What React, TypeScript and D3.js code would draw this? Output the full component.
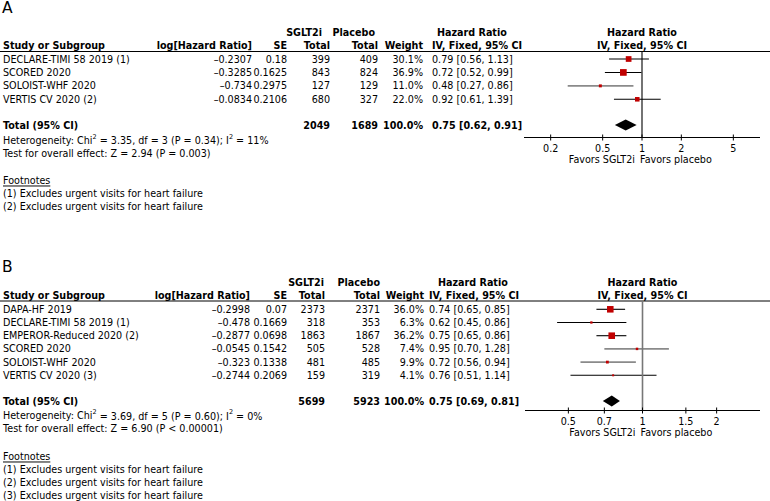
import React from "react";
import * as d3 from "d3";

// ---------- Panel A data ----------
const studiesA = ["DECLARE-TIMI 58 2019 (1)", "SCORED 2020", "SOLOIST-WHF 2020", "VERTIS CV 2020 (2)"];
const logHrA = [-0.2307, -0.3285, -0.734, -0.0834];
const seA = [0.18, 0.1625, 0.2975, 0.2106];
const sgltTotalA = [399, 843, 127, 680];
const placeboTotalA = [409, 824, 129, 327];
const weightA = [30.1, 36.9, 11.0, 22.0];
const hrA = [0.79, 0.72, 0.48, 0.92];
const loA = [0.56, 0.52, 0.27, 0.61];
const hiA = [1.13, 0.99, 0.86, 1.39];
const totalA = { sglt: 2049, placebo: 1689, weight: 100.0, hr: 0.75, lo: 0.62, hi: 0.91 };
const hetA = { chi: "3.35", df: "3", p: "0.34", i2: "11%" };
const effectA = "Test for overall effect: Z = 2.94 (P = 0.003)";
const footnotesA = ["(1) Excludes urgent visits for heart failure", "(2) Excludes urgent visits for heart failure"];
const ticksA = [0.2, 0.5, 1, 2, 5];

// ---------- Panel B data ----------
const studiesB = ["DAPA-HF 2019", "DECLARE-TIMI 58 2019 (1)", "EMPEROR-Reduced 2020 (2)", "SCORED 2020", "SOLOIST-WHF 2020", "VERTIS CV 2020 (3)"];
const logHrB = [-0.2998, -0.478, -0.2877, -0.0545, -0.323, -0.2744];
const seB = [0.07, 0.1669, 0.0698, 0.1542, 0.1338, 0.2069];
const sgltTotalB = [2373, 318, 1863, 505, 481, 159];
const placeboTotalB = [2371, 353, 1867, 528, 485, 319];
const weightB = [36.0, 6.3, 36.2, 7.4, 9.9, 4.1];
const hrB = [0.74, 0.62, 0.75, 0.95, 0.72, 0.76];
const loB = [0.65, 0.45, 0.65, 0.70, 0.56, 0.51];
const hiB = [0.85, 0.86, 0.86, 1.28, 0.94, 1.14];
const totalB = { sglt: 5699, placebo: 5923, weight: 100.0, hr: 0.75, lo: 0.69, hi: 0.81 };
const hetB = { chi: "3.69", df: "5", p: "0.60", i2: "0%" };
const effectB = "Test for overall effect: Z = 6.90 (P < 0.00001)";
const footnotesB = [
  "(1) Excludes urgent visits for heart failure",
  "(2) Excludes urgent visits for heart failure",
  "(3) Excludes urgent visits for heart failure",
];
const ticksB = [0.5, 0.7, 1, 1.5, 2];

// ---------- styling ----------
const FONT = "'DejaVu Sans', Verdana, sans-serif";
const FS = 9.6;
const RED = "#c00000";
const ciSoftA = [false, false, true, false];
const ciSoftB = [false, false, false, true, true, false];

const fmt = (v: number) => (v < 0 ? "\u2013" + String(-v) : String(v));
const fmtHR = (h: number, l: number, u: number) => `${h.toFixed(2)} [${l.toFixed(2)}, ${u.toFixed(2)}]`;

type Layout = {
  label: string;
  labelY: number;
  head1Y: number;
  head2Y: number;
  ruleY: number;
  rowRange: [number, number];
  totalY: number;
  axisY: number;
  hetY: number;
  lineH: number;
  footY: number;
  colLog: number;
  colSE: number;
  colT1: number;
  colT2: number;
  colW: number;
  colHR: number;
  hrHeadX: number;
  sgltHeadX: number;
  placeboHeadX: number;
  xDomain: [number, number];
  xRange: [number, number];
  refColor: string;
  refWidth: number;
};

type PanelData = {
  studies: string[];
  logHr: number[];
  se: number[];
  t1: number[];
  t2: number[];
  weight: number[];
  hr: number[];
  lo: number[];
  hi: number[];
  total: { sglt: number; placebo: number; weight: number; hr: number; lo: number; hi: number };
  het: { chi: string; df: string; p: string; i2: string };
  effect: string;
  footnotes: string[];
  ticks: number[];
  soft: boolean[];
};

function Panel({ d, L }: { d: PanelData; L: Layout }) {
  const x = d3.scaleLog().domain(L.xDomain).range(L.xRange);
  const y = d3.scalePoint<string>().domain(d.studies).range(L.rowRange);
  const size = d3.scaleLinear().domain([0, 100]).range([1.4, 15.7]);
  const x1 = x(1);
  const t = (props: any, s: React.ReactNode) => (
    <text dominantBaseline="central" {...props}>
      {s}
    </text>
  );
  const dh = 5.5;
  const diamond = `M${x(d.total.lo)},${L.totalY} L${x(d.total.hr)},${L.totalY - dh} L${x(d.total.hi)},${L.totalY} L${x(d.total.hr)},${L.totalY + dh} Z`;
  return (
    <g fontFamily={FONT} fontSize={FS} fill="#000">
      <text x={2} y={L.labelY} fontSize={15.5} fontFamily={FONT}>
        {L.label}
      </text>
      {/* headers */}
      <g fontWeight="bold">
        {t({ x: L.sgltHeadX, y: L.head1Y, textAnchor: "end" }, "SGLT2i")}
        {t({ x: L.placeboHeadX, y: L.head1Y, textAnchor: "end" }, "Placebo")}
        {t({ x: L.hrHeadX, y: L.head1Y }, "Hazard Ratio")}
        {t({ x: x1, y: L.head1Y, textAnchor: "middle" }, "Hazard Ratio")}
        {t({ x: 3, y: L.head2Y }, "Study or Subgroup")}
        {t({ x: L.colLog, y: L.head2Y, textAnchor: "end" }, "log[Hazard Ratio]")}
        {t({ x: L.colSE, y: L.head2Y, textAnchor: "end" }, "SE")}
        {t({ x: L.colT1, y: L.head2Y, textAnchor: "end" }, "Total")}
        {t({ x: L.colT2, y: L.head2Y, textAnchor: "end" }, "Total")}
        {t({ x: L.colW, y: L.head2Y, textAnchor: "end" }, "Weight")}
        {t({ x: L.colHR, y: L.head2Y }, "IV, Fixed, 95% CI")}
        {t({ x: x1, y: L.head2Y, textAnchor: "middle" }, "IV, Fixed, 95% CI")}
      </g>
      <line x1={0} x2={770} y1={L.ruleY} y2={L.ruleY} stroke="#000" strokeWidth={1} />
      {/* study rows */}
      {d.studies.map((s, i) => {
        const yy = y(s)!;
        const sz = size(d.weight[i]);
        return (
          <g key={s}>
            {t({ x: 3, y: yy }, s)}
            {t({ x: L.colLog, y: yy, textAnchor: "end" }, fmt(d.logHr[i]))}
            {t({ x: L.colSE, y: yy, textAnchor: "end" }, fmt(d.se[i]))}
            {t({ x: L.colT1, y: yy, textAnchor: "end" }, d.t1[i])}
            {t({ x: L.colT2, y: yy, textAnchor: "end" }, d.t2[i])}
            {t({ x: L.colW, y: yy, textAnchor: "end" }, d.weight[i].toFixed(1) + "%")}
            {t({ x: L.colHR, y: yy }, fmtHR(d.hr[i], d.lo[i], d.hi[i]))}
            <line
              x1={x(d.lo[i])}
              x2={x(d.hi[i])}
              y1={yy}
              y2={yy}
              stroke={d.soft[i] ? "#8a8a8a" : "#000"}
              strokeWidth={d.soft[i] ? 1.6 : 1.1}
            />
            <rect x={x(d.hr[i]) - sz / 2} y={yy - sz / 2} width={sz} height={sz} fill={RED} />
          </g>
        );
      })}
      {/* total row */}
      <g fontWeight="bold">
        {t({ x: 3, y: L.totalY }, "Total (95% CI)")}
        {t({ x: L.colT1, y: L.totalY, textAnchor: "end" }, d.total.sglt)}
        {t({ x: L.colT2, y: L.totalY, textAnchor: "end" }, d.total.placebo)}
        {t({ x: L.colW, y: L.totalY, textAnchor: "end" }, d.total.weight.toFixed(1) + "%")}
        {t({ x: L.colHR, y: L.totalY }, fmtHR(d.total.hr, d.total.lo, d.total.hi))}
      </g>
      <path d={diamond} fill="#000" />
      {/* reference line */}
      <line x1={x1} x2={x1} y1={L.ruleY} y2={L.axisY} stroke={L.refColor} strokeWidth={L.refWidth} />
      {/* axis */}
      <line x1={L.xRange[0]} x2={L.xRange[1]} y1={L.axisY} y2={L.axisY} stroke="#000" strokeWidth={1} />
      {d.ticks.map((tk) => (
        <g key={tk}>
          <line x1={x(tk)} x2={x(tk)} y1={L.axisY - 3} y2={L.axisY + 3} stroke="#000" strokeWidth={1} />
          {t({ x: x(tk), y: L.axisY + 10.5, textAnchor: "middle" }, String(tk))}
        </g>
      ))}
      {t({ x: x1 - 7, y: L.axisY + 22, textAnchor: "end" }, "Favors SGLT2i")}
      {t({ x: x1 - 2, y: L.axisY + 22 }, "Favors placebo")}
      {/* heterogeneity */}
      <text x={3} y={L.hetY} dominantBaseline="central">
        Heterogeneity: Chi
        <tspan dy={-3.5} fontSize={6.5}>2</tspan>
        <tspan dy={3.5}>{` = ${d.het.chi}, df = ${d.het.df} (P = ${d.het.p}); I`}</tspan>
        <tspan dy={-3.5} fontSize={6.5}>2</tspan>
        <tspan dy={3.5}>{` = ${d.het.i2}`}</tspan>
      </text>
      {t({ x: 3, y: L.hetY + L.lineH }, d.effect)}
      {t({ x: 3, y: L.footY, textDecoration: "underline" }, "Footnotes")}
      {d.footnotes.map((f, i) => (
        <React.Fragment key={i}>{t({ x: 3, y: L.footY + L.lineH * (i + 1) }, f)}</React.Fragment>
      ))}
    </g>
  );
}

const dataA: PanelData = {
  studies: studiesA, logHr: logHrA, se: seA, t1: sgltTotalA, t2: placeboTotalA, weight: weightA,
  hr: hrA, lo: loA, hi: hiA, total: totalA, het: hetA, effect: effectA, footnotes: footnotesA, ticks: ticksA, soft: ciSoftA,
};
const dataB: PanelData = {
  studies: studiesB, logHr: logHrB, se: seB, t1: sgltTotalB, t2: placeboTotalB, weight: weightB,
  hr: hrB, lo: loB, hi: hiB, total: totalB, het: hetB, effect: effectB, footnotes: footnotesB, ticks: ticksB, soft: ciSoftB,
};

const layoutA: Layout = {
  label: "A", labelY: 13, head1Y: 32, head2Y: 45, ruleY: 51.5, rowRange: [59, 99.3], totalY: 125,
  axisY: 137.5, hetY: 140, lineH: 13, footY: 180,
  colLog: 252, colSE: 287, colT1: 330, colT2: 378, colW: 423, colHR: 432, hrHeadX: 437,
  sgltHeadX: 322, placeboHeadX: 375,
  xDomain: [0.125, 8], xRange: [524, 760], refColor: "#000", refWidth: 1.1,
};
const layoutB: Layout = {
  label: "B", labelY: 272, head1Y: 282.5, head2Y: 295, ruleY: 301, rowRange: [309.3, 375.3], totalY: 401,
  axisY: 410.5, hetY: 415.5, lineH: 13, footY: 456,
  colLog: 250, colSE: 287, colT1: 325, colT2: 380, colW: 424, colHR: 429, hrHeadX: 438,
  sgltHeadX: 324, placeboHeadX: 380,
  xDomain: [1 / 3, 3], xRange: [525, 760], refColor: "#777", refWidth: 1.6,
};

export default function App() {
  return (
    <svg
      width={770}
      height={501}
      viewBox="0 0 770 501"
      style={{ position: "absolute", left: 0, top: 0, background: "#fff" }}
    >
      <rect width={770} height={501} fill="#fff" />
      <Panel d={dataA} L={layoutA} />
      <Panel d={dataB} L={layoutB} />
    </svg>
  );
}
